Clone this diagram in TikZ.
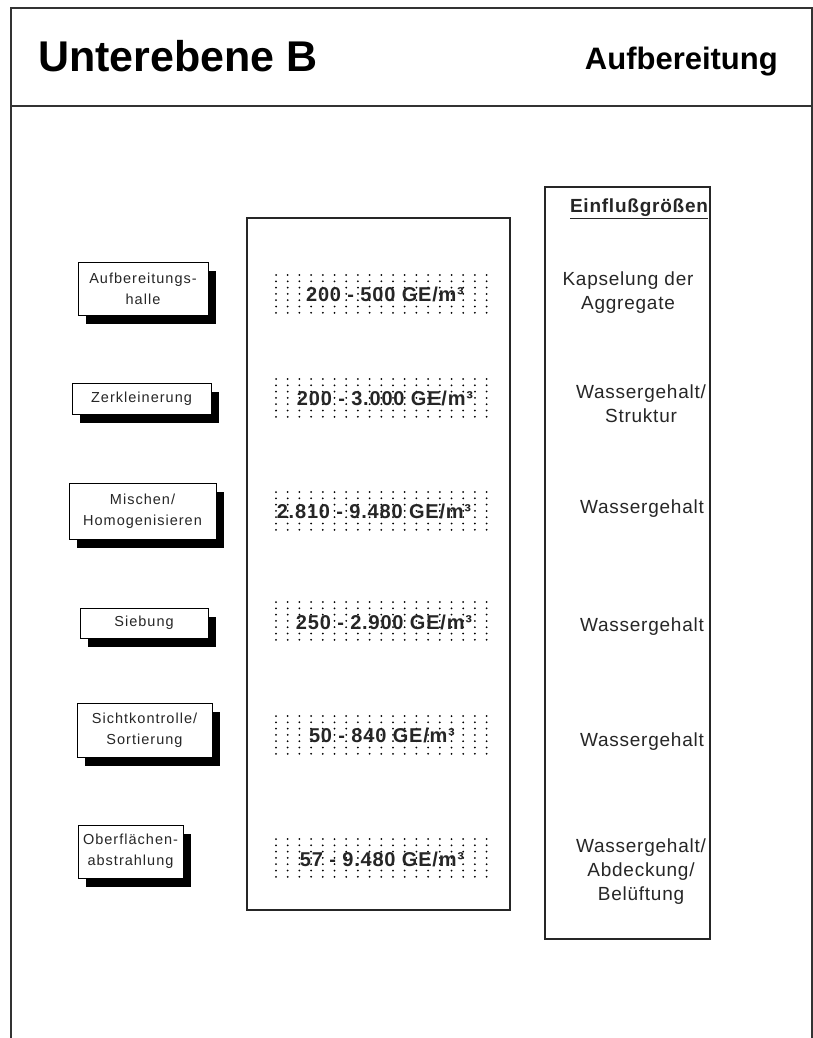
\documentclass[tikz,border=0pt]{standalone}
\usepackage{fontspec}
\setmainfont{Liberation Sans}
\newfontfamily\spaced[LetterSpace=4]{Liberation Sans}
\newfontfamily\boxfont[LetterSpace=7]{Liberation Sans}
\usetikzlibrary{shadows}

\tikzset{
  frameline/.style={line width=1.3pt, draw=black!80},
  stagebox/.style={draw=black, line width=0.9pt, fill=white, inner sep=0pt,
    align=center, font=\fontsize{14.5}{21}\selectfont\boxfont, text=black!85,
    drop shadow={shadow xshift=8pt, shadow yshift=-9pt, fill=black, opacity=1}},
  colbox/.style={draw=black!85, line width=1.2pt},
  rangetext/.style={font=\fontsize{20}{22}\selectfont\bfseries\spaced, text=black!85, inner sep=0pt},
  factortext/.style={font=\fontsize{19}{24}\selectfont\spaced, text=black!85, align=center, inner sep=0pt},
  dotmark/.style={fill=black, draw=none}
}

% dotted band behind a range value, centred vertically on #1
\newcommand{\dotband}[1]{%
  \foreach \i in {0,...,18}{%
    \foreach \j in {0,...,6}{%
      \fill[dotmark] (276+11.7*\i, #1-19+6.3*\j) circle (1.0);
    }%
  }%
}

\begin{document}
\begin{tikzpicture}[x=1pt,y=-1pt]
\useasboundingbox (0,0) rectangle (813,1038);
\fill[white] (0,0) rectangle (813,1038);

% page frame and header
\draw[frameline] (11,1045) -- (11,8) -- (812,8) -- (812,1045);
\draw[frameline] (11,106) -- (812,106);
\node[anchor=base west, inner sep=0pt, font=\fontsize{43}{46}\selectfont\bfseries] (title) at (38,72) {Unterebene B};
\node[anchor=base east, inner sep=0pt, font=\fontsize{31}{34}\selectfont\bfseries] (subtitle) at (778,70) {Aufbereitung};

% column boxes
\node[colbox, minimum width=263pt, minimum height=692pt, inner sep=0pt] (mid) at (378.5,564) {};
\node[colbox, minimum width=165pt, minimum height=752pt, inner sep=0pt] (right) at (627.5,563) {};

% process stages
\node[stagebox, minimum width=130pt, minimum height=53pt] (s1) at (143,288.5) {Aufbereitungs-\\halle};
\node[stagebox, minimum width=139pt, minimum height=31pt] (s2) at (141.5,398.5) {Zerkleinerung};
\node[stagebox, minimum width=147pt, minimum height=56pt] (s3) at (142.5,511) {Mischen/\\Homogenisieren};
\node[stagebox, minimum width=128pt, minimum height=30pt] (s4) at (144,623) {Siebung};
\node[stagebox, minimum width=135pt, minimum height=54pt] (s5) at (144.5,730) {Sichtkontrolle/\\Sortierung};
\node[stagebox, minimum width=105pt, minimum height=53pt] (s6) at (130.5,851.5) {Oberflächen-\\abstrahlung};

% odour concentration ranges
\dotband{294}
\node[rangetext] (r1) at (385,294) {200 - 500 GE/m³};
\dotband{398}
\node[rangetext] (r2) at (385,398) {200 - 3.000 GE/m³};
\dotband{511}
\node[rangetext] (r3) at (374,511) {2.810 - 9.480 GE/m³};
\dotband{621}
\node[rangetext] (r4) at (384,622) {250 - 2.900 GE/m³};
\dotband{735}
\node[rangetext] (r5) at (382,735) {50 - 840 GE/m³};
\dotband{858}
\node[rangetext] (r6) at (382,859) {57 - 9.480 GE/m³};

% influencing factors
\node[font=\fontsize{19}{22}\selectfont\bfseries\spaced, text=black!85, inner sep=0pt] (head) at (639,209) {\underline{Einflußgrößen}};
\node[factortext] (f1) at (628,293) {Kapselung der\\Aggregate};
\node[factortext] (f2) at (641,404) {Wassergehalt/\\Struktur};
\node[factortext] (f3) at (642,509) {Wassergehalt};
\node[factortext] (f4) at (642,627) {Wassergehalt};
\node[factortext] (f5) at (642,742) {Wassergehalt};
\node[factortext] (f6) at (641,872) {Wassergehalt/\\Abdeckung/\\Belüftung};
\end{tikzpicture}
\end{document}
